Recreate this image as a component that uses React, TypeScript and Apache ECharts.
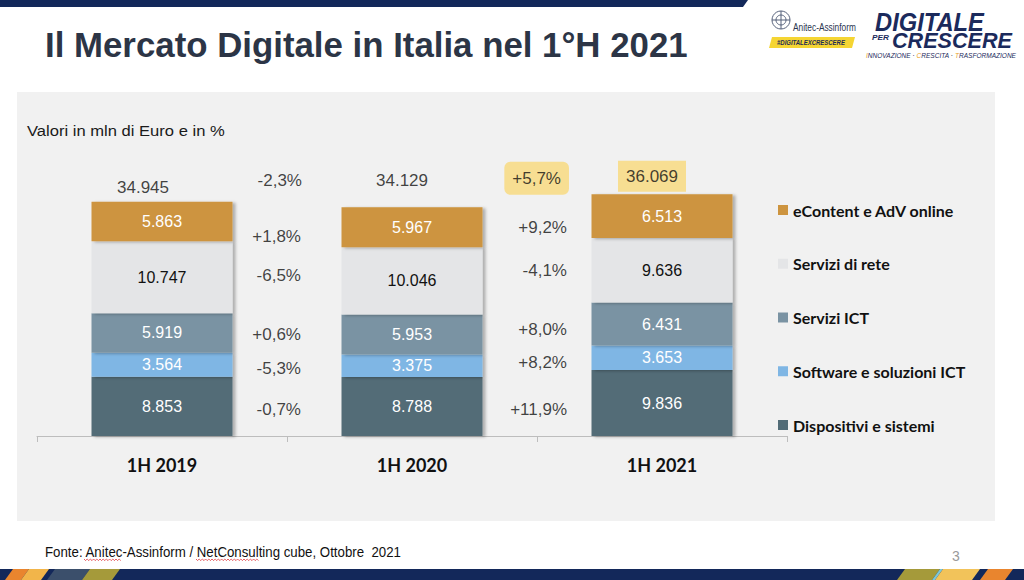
import React, { useEffect, useRef } from 'react';
import * as echarts from 'echarts';

// ---- data ----
const categories = ['1H 2019', '1H 2020', '1H 2021'];
const seriesNames = ['Dispositivi e sistemi', 'Software e soluzioni ICT', 'Servizi ICT', 'Servizi di rete', 'eContent e AdV online'];
const dispositivi = [8853, 8788, 9836];
const software = [3564, 3375, 3653];
const serviziICT = [5919, 5953, 6431];
const serviziRete = [10747, 10046, 9636];
const eContent = [5863, 5967, 6513];
const totals = [34945, 34129, 36069];
// variation labels: [total, dispositivi, software, servizi ICT, servizi di rete, eContent]
const change1920 = ['-2,3%', '-0,7%', '-5,3%', '+0,6%', '-6,5%', '+1,8%'];
const change2021 = ['+5,7%', '+11,9%', '+8,2%', '+8,0%', '-4,1%', '+9,2%'];

// ---- styles / layout ----
const colors = ['#526c77', '#7fb6e4', '#7a93a3', '#e4e5e7', '#cd943f'];
const labelColors = ['#ffffff', '#ffffff', '#ffffff', '#111111', '#ffffff'];
const NAVY = '#13285a';
const HIGHLIGHT = '#f9da7b';
const NUM_FONT = '"Liberation Sans", Arial, sans-serif';
const BOLD_FONT = 'Lato, "Open Sans", sans-serif';
const totalOffsets = [[-19, -14], [-10, -27], [-10, -18]];
const pctRowShift = [[-27, 3, 3, 0, -5, 9], [-16, 6, 5, 5, 0, 11]];
const pctDx = [[15, 14, 14, 14, 14, 14], [32, 30, 30, 30, 30, 30]];

const fmt = (v: number) => String(v).replace(/\B(?=(\d{3})+(?!\d))/g, '.');

let measureCtx: CanvasRenderingContext2D | null = null;
const measure = (text: string, font: string) => {
  if (!measureCtx) measureCtx = document.createElement('canvas').getContext('2d');
  measureCtx!.font = font;
  return measureCtx!.measureText(text).width || 1;
};

const fitText = (text: string, x: number, y: number, width: number, font: string, fill: string, extra: any = {}) => ({
  type: 'text',
  x,
  y,
  scaleX: width / measure(text, font),
  z: 10,
  style: { text, font, fill, textVerticalAlign: 'middle', verticalAlign: 'middle', textAlign: 'left', align: 'left', ...extra },
});

const squiggle = (x0: number, x1: number, y: number) => {
  const pts: number[][] = [];
  let up = true;
  for (let x = x0; x <= x1; x += 1.6) {
    pts.push([x, up ? y : y + 1.6]);
    up = !up;
  }
  return { type: 'polyline', z: 10, shape: { points: pts }, style: { stroke: '#e0393e', lineWidth: 0.8, fill: 'none' } };
};

const band = (x: number, w: number, color: string) => ({
  type: 'polygon',
  z: 10,
  shape: { points: [[x + 5, 569], [x + w + 5, 569], [x + w - 3, 580], [x - 3, 580]] },
  style: { fill: color },
});

export default function App() {
  const ref = useRef<HTMLDivElement>(null);

  useEffect(() => {
    if (!ref.current) return;
    const chart = echarts.init(ref.current, null, { renderer: 'svg' });
    const stacks = [dispositivi, software, serviziICT, serviziRete, eContent];

    const barSeries = stacks.map((arr, i) => ({
      name: seriesNames[i],
      type: 'bar',
      stack: 'total',
      barWidth: 141,
      data: arr,
      itemStyle: {
        color: colors[i],
        shadowColor: 'rgba(0,0,0,0.28)',
        shadowBlur: 3,
        shadowOffsetX: 3,
        shadowOffsetY: 1,
      },
      label: {
        show: true,
        position: 'inside',
        color: labelColors[i],
        fontFamily: NUM_FONT,
        fontSize: 16,
        formatter: (p: any) => fmt(p.value),
      },
    }));

    // positions of variation labels derived from the later bar's segments
    const pctData: any[] = [];
    [change1920, change2021].forEach((col, c) => {
      const bar = c + 1;
      let base = 0;
      col.forEach((txt, r) => {
        let y: number;
        if (r === 0) {
          y = totals[bar];
        } else {
          const seg = stacks[r - 1][bar];
          y = base + seg / 2;
          base += seg;
        }
        const highlight = c === 1 && r === 0;
        pctData.push({
          value: [c + 0.5, y],
          label: {
            formatter: txt,
            offset: [pctDx[c][r], pctRowShift[c][r]],
            ...(highlight
              ? { backgroundColor: HIGHLIGHT, borderRadius: 6, padding: [8, 8, 8, 8] }
              : {}),
          },
        });
      });
    });

    const totalData = totals.map((t, i) => ({
      value: [i, t],
      label: {
        formatter: fmt(t),
        offset: totalOffsets[i],
        ...(i === 2 ? { backgroundColor: HIGHLIGHT, padding: [7, 8, 7, 8] } : {}),
      },
    }));

    const graphics: any[] = [
      { type: 'rect', z: -10, shape: { x: 17, y: 92, width: 978, height: 429 }, style: { fill: '#f1f1f1' } },
      { type: 'polygon', z: 10, shape: { points: [[0, 0], [748, 0], [743, 7], [0, 7]] }, style: { fill: NAVY } },
      fitText('Il Mercato Digitale in Italia nel 1°H 2021', 45, 45, 643, `bold 36px ${NUM_FONT}`, '#2c3546'),
      fitText('Valori in mln di Euro e in %', 27, 131, 198, `15px ${NUM_FONT}`, '#1a1a1a'),
      fitText('Fonte: Anitec-Assinform / NetConsulting cube, Ottobre  2021', 45, 552, 357, `14px ${NUM_FONT}`, '#111111'),
      squiggle(84, 122, 559),
      squiggle(196, 259, 559),
      { type: 'text', z: 10, x: 952, y: 556, style: { text: '3', font: `14px ${NUM_FONT}`, fill: '#9a9a9a', textVerticalAlign: 'middle', verticalAlign: 'middle' } },
      // bottom band
      { type: 'rect', z: 9, shape: { x: 0, y: 569, width: 1024, height: 11 }, style: { fill: NAVY } },
      band(8, 16, '#e9852e'),
      band(24, 20, '#f2b54a'),
      band(50, 35, '#3b4f6b'),
      band(85, 30, '#a59a3a'),
      band(900, 35, '#a59a3a'),
      band(935, 3, '#7cc7d8'),
      band(938, 37, '#f2c35a'),
      band(983, 25, '#e9852e'),
      // Anitec-Assinform logo
      { type: 'circle', z: 10, shape: { cx: 781, cy: 20, r: 9 }, style: { fill: 'none', stroke: '#55607a', lineWidth: 1 } },
      { type: 'circle', z: 10, shape: { cx: 781, cy: 20, r: 5 }, style: { fill: 'none', stroke: '#55607a', lineWidth: 1 } },
      { type: 'line', z: 10, shape: { x1: 781, y1: 11, x2: 781, y2: 29 }, style: { stroke: '#55607a', lineWidth: 1 } },
      { type: 'line', z: 10, shape: { x1: 772, y1: 20, x2: 790, y2: 20 }, style: { stroke: '#55607a', lineWidth: 1 } },
      fitText('Anitec-Assinform', 793, 28, 63, `10px ${NUM_FONT}`, '#2b3550'),
      { type: 'polygon', z: 10, shape: { points: [[772, 37], [855, 37], [852, 48], [769, 48]] }, style: { fill: '#f5d533' } },
      fitText('#DIGITALEXCRESCERE', 777, 42.5, 68, `italic bold 7px ${NUM_FONT}`, '#1d2b55'),
      fitText('DIGITALE', 875, 22, 109, `italic 900 26px ${NUM_FONT}`, '#1b2a5c'),
      fitText('PER', 872, 38, 17, `italic bold 8px ${NUM_FONT}`, '#1b2a5c'),
      fitText('CRESCERE', 892, 40, 120, `italic 900 22px ${NUM_FONT}`, '#1b2a5c'),
      {
        type: 'text', z: 10, x: 866, y: 55,
        scaleX: 150 / measure('INNOVAZIONE · CRESCITA · TRASFORMAZIONE', `italic 7px ${NUM_FONT}`),
        style: {
          text: '{y|I}NNOVAZIONE · {y|C}RESCITA · {y|T}RASFORMAZIONE',
          font: `italic 7px ${NUM_FONT}`, fill: '#1b2a5c',
          textVerticalAlign: 'middle', verticalAlign: 'middle',
          rich: { y: { fill: '#e8a11d', font: `italic 7px ${NUM_FONT}` } },
        },
      },
    ];

    chart.setOption({
      animation: false,
      backgroundColor: '#ffffff',
      grid: { left: 37, right: 237, top: 168, bottom: 144, containLabel: false },
      legend: {
        orient: 'vertical',
        left: 773,
        top: 196,
        itemWidth: 10,
        itemHeight: 10,
        itemGap: 35.75,
        icon: 'rect',
        data: [...seriesNames].reverse(),
        textStyle: { fontFamily: BOLD_FONT, fontWeight: 'bold', fontSize: 16, color: '#111111', lineHeight: 18 },
        selectedMode: false,
      },
      xAxis: [
        {
          type: 'category',
          data: categories,
          axisLine: { lineStyle: { color: '#bdbdbd', width: 1 } },
          axisTick: { show: true, length: 6, lineStyle: { color: '#bdbdbd' } },
          axisLabel: { fontFamily: BOLD_FONT, fontWeight: 'bold', fontSize: 18, color: '#111111', margin: 20 },
        },
        { type: 'value', min: -0.5, max: 2.5, show: false },
      ],
      yAxis: { type: 'value', min: 0, max: 40000, show: false, splitLine: { show: false } },
      series: [
        ...barSeries,
        {
          name: 'totals',
          type: 'scatter',
          xAxisIndex: 1,
          symbolSize: 0,
          silent: true,
          data: totalData,
          label: { show: true, position: 'inside', fontFamily: NUM_FONT, fontSize: 17, color: '#111111' },
          z: 5,
        },
        {
          name: 'variations',
          type: 'scatter',
          xAxisIndex: 1,
          symbolSize: 0,
          silent: true,
          data: pctData,
          label: { show: true, position: 'inside', align: 'right', fontFamily: NUM_FONT, fontSize: 17, color: '#111111' },
          z: 5,
        },
      ],
      graphic: graphics,
    });

    return () => chart.dispose();
  }, []);

  return <div ref={ref} style={{ position: 'absolute', left: 0, top: 0, width: 1024, height: 580 }} />;
}
